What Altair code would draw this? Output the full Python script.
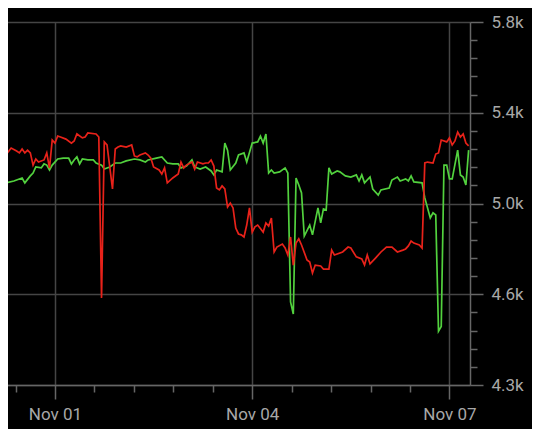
import altair as alt
import pandas as pd

# hours counted from 2023-10-31 00:00 (local time)
red_hours = [4, 5, 6, 8, 10, 11, 12, 13, 14, 15, 16, 17, 18, 20, 21, 22, 23, 24, 25, 26, 28, 30, 31, 32, 34, 35, 36, 39, 40, 41,
             42, 43, 45, 46, 47, 48, 50, 52, 53, 54, 55, 57, 58, 59, 60, 62, 63, 64, 65, 67, 69, 70, 71, 72, 74, 75, 76, 78, 79, 80,
             81, 82, 83, 84, 85, 86, 87, 88, 89, 90, 91, 92, 93, 94, 95, 96, 97, 98, 100, 101, 102, 103, 104, 105, 107, 108, 109, 110, 111, 112,
             113, 114, 116, 117, 118, 119, 121, 122, 124, 125, 126, 129, 131, 132, 134, 136, 137, 138, 139, 141, 143, 145, 147, 149, 151, 152, 153, 154, 155, 157,
             158, 159, 160, 162, 163, 164, 165, 167, 168, 169, 170, 171, 172, 173, 174, 175]
red_vals = [5262, 5241, 5232, 5262, 5249, 5241, 5258, 5241, 5253, 5241, 5189, 5215, 5202, 5211, 5241, 5176, 5296, 5283, 5313, 5309,
            5300, 5283, 5292, 5322, 5305, 5309, 5326, 5322, 5309, 4622, 5288, 5275, 5087, 5258, 5266, 5271, 5266, 5275, 5228, 5224,
            5232, 5241, 5232, 5219, 5181, 5168, 5151, 5177, 5113, 5134, 5151, 5202, 5177, 5189, 5202, 5172, 5202, 5194, 5198, 5198,
            5211, 5185, 5091, 5083, 5100, 5087, 5010, 5027, 5006, 4920, 4895, 4891, 4882, 4933, 5006, 4903, 4925, 4933, 4903, 4942,
            4929, 4963, 4818, 4839, 4852, 4835, 4805, 4882, 4762, 4856, 4874, 4848, 4784, 4775, 4728, 4762, 4758, 4745, 4745, 4826,
            4805, 4818, 4839, 4835, 4797, 4788, 4762, 4805, 4767, 4792, 4818, 4839, 4839, 4818, 4826, 4831, 4844, 4865, 4856, 4848,
            4835, 5198, 5202, 5198, 5236, 5241, 5296, 5288, 5305, 5275, 5292, 5330, 5309, 5322, 5283, 5271]

green_hours = [4, 5, 6, 9, 12, 13, 15, 16, 17, 19, 20, 21, 22, 23, 25, 27, 29, 30, 31, 32, 33, 34, 36, 38, 39, 41, 42, 44, 46, 48,
               50, 53, 55, 57, 58, 61, 63, 65, 67, 69, 70, 72, 74, 75, 77, 79, 81, 82, 83, 85, 86, 87, 88, 90, 91, 93, 94, 96, 98, 99,
               100, 101, 102, 103, 104, 106, 108, 109, 110, 111, 112, 113, 114, 115, 117, 118, 120, 121, 122, 123, 124, 125, 127, 128, 130, 132, 134, 135, 136, 137,
               139, 140, 142, 143, 146, 147, 149, 150, 152, 153, 154, 155, 158, 159, 161, 162, 163, 164, 165, 166, 167, 168, 169, 171, 172, 173, 174, 175]
green_vals = [5147, 5143, 5113, 5121, 5134, 5113, 5143, 5155, 5181, 5177, 5194, 5189, 5168, 5189, 5215, 5219, 5219, 5194, 5211, 5224,
              5194, 5215, 5211, 5211, 5198, 5189, 5172, 5181, 5198, 5198, 5207, 5215, 5211, 5202, 5211, 5219, 5224, 5198, 5194, 5194,
              5177, 5185, 5211, 5181, 5172, 5181, 5164, 5147, 5168, 5160, 5283, 5253, 5168, 5198, 5232, 5241, 5202, 5283, 5288, 5313,
              5283, 5322, 5155, 5168, 5155, 5160, 5177, 5155, 4605, 4553, 5134, 5104, 5070, 4886, 4933, 4891, 5006, 4942, 5002, 4997,
              5177, 5151, 5164, 5160, 5143, 5138, 5147, 5121, 5147, 5113, 5138, 5087, 5061, 5083, 5091, 5125, 5138, 5121, 5130, 5121,
              5143, 5117, 5113, 5049, 4963, 4985, 4976, 4480, 4500, 5189, 5189, 5130, 5130, 5253, 5147, 5138, 5104, 5253]

x_tick_times = ["2023-10-31 09:36", "2023-11-01 00:00", "2023-11-01 14:24", "2023-11-02 04:48", "2023-11-02 19:12",
                "2023-11-03 09:36", "2023-11-04 00:00", "2023-11-04 14:24", "2023-11-05 04:48", "2023-11-05 19:12",
                "2023-11-06 09:36", "2023-11-07 00:00"]
x_domain = ["2023-10-31 03:56", "2023-11-07 07:30"]

y_ticks = [4250, 4327.5, 4405, 4482.5, 4560, 4637.5, 4715, 4792.5, 4870, 4947.5, 5025,
           5102.5, 5180, 5257.5, 5335, 5412.5, 5490, 5567.5, 5645, 5722.5, 5800]
y_major = [4250, 4637.5, 5025, 5412.5, 5800]
y_domain = [4250, 5800]

base = pd.Timestamp("2023-10-31 00:00")
df = pd.concat([
    pd.DataFrame({"t": base + pd.to_timedelta(green_hours, unit="h"), "v": green_vals, "s": "green"}),
    pd.DataFrame({"t": base + pd.to_timedelta(red_hours, unit="h"), "v": red_vals, "s": "red"}),
])


def dt(s):
    p = pd.Timestamp(s)
    return alt.DateTime(year=p.year, month=p.month, date=p.day, hours=p.hour, minutes=p.minute)


major_x_test = "hours(datum.value) == 0 && minutes(datum.value) == 0"
major_y_test = "indexof(" + str(y_major) + ", datum.value) >= 0"

x_axis = alt.Axis(
    values=[dt(s) for s in x_tick_times],
    labelExpr="(" + major_x_test + ") ? timeFormat(datum.value, '%b %d') : ''",
    title=None,
    grid=True,
    gridColor="#454545",
    gridWidth=1.5,
    gridOpacity={"condition": {"test": major_x_test, "value": 1}, "value": 0},
    tickSize={"condition": {"test": major_x_test, "value": 14}, "value": 7},
    tickColor="#666666",
    tickWidth=1.5,
    domainColor="#666666",
    domainWidth=1.5,
    labelColor="#a8a8a8",
    labelFontSize=17,
    labelFont="Roboto",
    labelPadding=7,
    labelFlush=False,
    labelOverlap=False,
)

y_axis = alt.Axis(
    orient="right",
    values=y_ticks,
    labelExpr="(" + major_y_test + ") ? format(datum.value, '.2s') : ''",
    title=None,
    grid=True,
    gridColor="#454545",
    gridWidth=1.5,
    gridOpacity={"condition": {"test": major_y_test, "value": 1}, "value": 0},
    tickSize={"condition": {"test": major_y_test, "value": 13}, "value": 7},
    tickColor="#666666",
    tickWidth=1.5,
    domainColor="#666666",
    domainWidth=1.5,
    labelColor="#a8a8a8",
    labelFontSize=17,
    labelFont="Roboto",
    labelPadding=8,
    labelOverlap=False,
    labelBaseline="middle",
)

chart = alt.Chart(df).mark_line(strokeWidth=1.7, clip=True).encode(
    x=alt.X("t:T", scale=alt.Scale(domain=[dt(s) for s in x_domain], nice=False), axis=x_axis),
    y=alt.Y("v:Q", scale=alt.Scale(domain=y_domain, nice=False, zero=False), axis=y_axis),
    color=alt.Color("s:N", scale=alt.Scale(domain=["green", "red"], range=["#52d13e", "#e8221a"]), legend=None),
    order=alt.Order("t:T"),
).properties(
    width=470,
    height=363,
    background="#000000",
    padding={"left": -8, "top": 14, "right": 62, "bottom": 44},
    autosize=alt.AutoSizeParams(type="none"),
).configure_view(stroke=None)

chart.save("out.html", embed_options={"renderer": "svg", "actions": False})
